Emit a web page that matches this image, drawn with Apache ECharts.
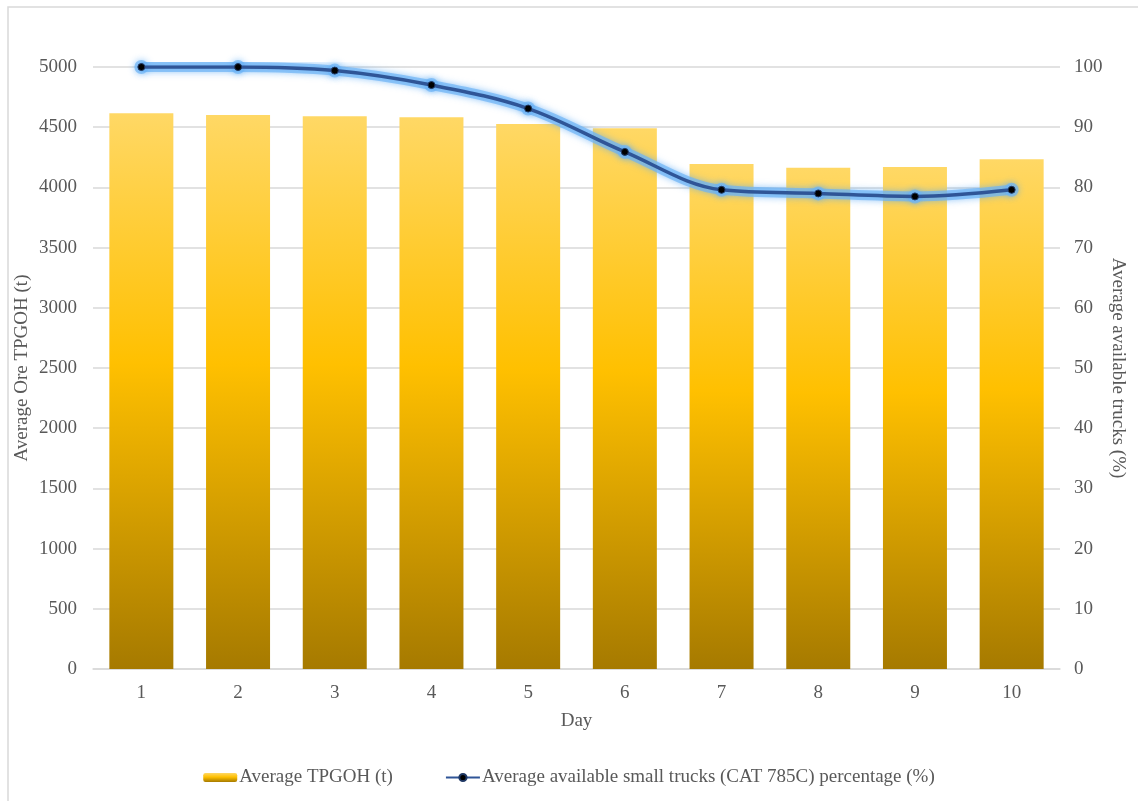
<!DOCTYPE html>
<html>
<head>
<meta charset="utf-8">
<script src="https://cdn.jsdelivr.net/npm/echarts@6/dist/echarts.min.js"></script>
<style>
  html, body { margin: 0; padding: 0; background: #fff; }
  #chart { width: 1138px; height: 801px; }
</style>
</head>
<body>
<div id="chart"></div>
<script>
// Days on the x axis
const days = ['1', '2', '3', '4', '5', '6', '7', '8', '9', '10'];
// Average ore tonnes per gross operating hour (left axis)
const tpgoh = [4615, 4601, 4590, 4582, 4527, 4491, 4194, 4164, 4169, 4233];
// Average available small trucks (CAT 785C), percent (right axis)
const truckPct = [100, 100, 99.4, 97.0, 93.1, 85.9, 79.6, 79.0, 78.5, 79.6];

const textColor = '#595959';
const gridColor = '#D9D9D9';
const fontFamily = '"Liberation Serif", "Times New Roman", serif';
const fontSize = 19;

const chart = echarts.init(document.getElementById('chart'));

const barGradient = new echarts.graphic.LinearGradient(0, 0, 0, 1, [
  { offset: 0, color: '#FFD865' },
  { offset: 0.45, color: '#FFC000' },
  { offset: 1, color: '#A67A00' }
]);

const plainNumber = v => String(v);

chart.setOption({
  backgroundColor: '#fff',
  animation: false,
  textStyle: { fontFamily: fontFamily, color: textColor },
  graphic: [{
    type: 'rect',
    shape: { x: 8, y: 7, width: 1160, height: 820 },
    style: { fill: 'none', stroke: '#D9D9D9', lineWidth: 1.5 },
    silent: true,
    z: -10
  }],
  grid: { left: 93, right: 78, top: 67, bottom: 132, outerBoundsMode: 'none' },
  legend: {
    bottom: 9,
    left: 'center',
    itemGap: 52,
    itemWidth: 34,
    itemHeight: 9,
    textStyle: { fontFamily: fontFamily, fontSize: fontSize, color: textColor, padding: [0, 0, 0, -3] },
    data: ['Average TPGOH (t)', 'Average available small trucks (CAT 785C) percentage (%)']
  },
  xAxis: {
    type: 'category',
    data: days,
    name: 'Day',
    nameLocation: 'middle',
    nameGap: 43,
    nameMoveOverlap: false,
    nameTextStyle: { fontFamily: fontFamily, fontSize: fontSize, color: textColor },
    axisLine: { lineStyle: { color: gridColor, width: 1.5 } },
    axisTick: { show: false },
    axisLabel: { fontFamily: fontFamily, fontSize: fontSize, color: textColor, margin: 15 }
  },
  yAxis: [{
    type: 'value',
    min: 0,
    max: 5000,
    interval: 500,
    name: 'Average Ore TPGOH (t)',
    nameLocation: 'middle',
    nameGap: 61,
    nameMoveOverlap: false,
    nameTextStyle: { fontFamily: fontFamily, fontSize: fontSize, color: textColor },
    axisLine: { show: false },
    axisTick: { show: false },
    axisLabel: { fontFamily: fontFamily, fontSize: fontSize, color: textColor, margin: 16, formatter: plainNumber },
    splitLine: { lineStyle: { color: gridColor, width: 1.5 } }
  }, {
    type: 'value',
    min: 0,
    max: 100,
    interval: 10,
    position: 'right',
    name: 'Average available trucks (%)',
    nameLocation: 'middle',
    nameRotate: -90,
    nameGap: 48,
    nameMoveOverlap: false,
    nameTextStyle: { fontFamily: fontFamily, fontSize: fontSize, color: textColor },
    axisLine: { show: false },
    axisTick: { show: false },
    axisLabel: { fontFamily: fontFamily, fontSize: fontSize, color: textColor, margin: 14, formatter: plainNumber },
    splitLine: { show: false }
  }],
  series: [{
    name: 'Average TPGOH (t)',
    type: 'bar',
    yAxisIndex: 0,
    data: tpgoh,
    barWidth: 64,
    itemStyle: { color: barGradient }
  }, {
    // soft glow beneath the truck-availability line
    name: 'glow',
    type: 'line',
    yAxisIndex: 1,
    data: truckPct,
    smooth: 0.35,
    symbol: 'circle',
    symbolSize: 14,
    silent: true,
    lineStyle: {
      color: 'rgba(110,180,245,0.7)',
      width: 10,
      shadowColor: 'rgba(90,170,245,0.9)',
      shadowBlur: 7
    },
    itemStyle: {
      color: 'rgba(110,180,245,0.7)',
      shadowColor: 'rgba(90,170,245,0.9)',
      shadowBlur: 7
    },
    z: 4
  }, {
    name: 'Average available small trucks (CAT 785C) percentage (%)',
    type: 'line',
    yAxisIndex: 1,
    data: truckPct,
    smooth: 0.35,
    symbol: 'circle',
    symbolSize: 7,
    lineStyle: { color: '#2F5597', width: 3.5 },
    itemStyle: { color: '#000', borderColor: '#1F3864', borderWidth: 1 },
    z: 5
  }]
});
</script>
</body>
</html>
